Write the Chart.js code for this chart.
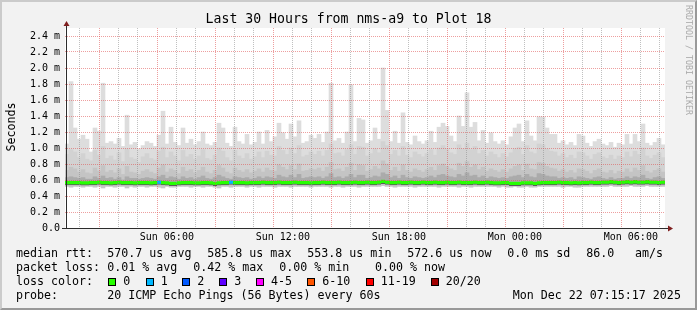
<!DOCTYPE html>
<html>
<head>
<meta charset="utf-8">
<script src="https://cdn.jsdelivr.net/npm/chart.js@4/dist/chart.umd.min.js"></script>
<style>
  html, body { margin: 0; padding: 0; background: #f2f2f2; }
  #frame { position: relative; width: 697px; height: 310px; background: #f2f2f2; overflow: hidden; }
  #frame canvas { position: absolute; left: 0; top: 0; }
  #shade { position: absolute; left: 0; top: 0; width: 697px; height: 310px; box-sizing: border-box;
    border-top: 2px solid #cbcbcb; border-left: 2px solid #cbcbcb;
    border-right: 2px solid #999; border-bottom: 2px solid #999; pointer-events: none; }
  .t { position: absolute; font-family: "DejaVu Sans Mono", monospace; font-size: 11.65px;
    line-height: 14px; white-space: pre; color: #000; }
  .box { position: absolute; width: 6px; height: 6px; border: 1px solid #000; top: 278px; }
  #title { left: 0; width: 697px; text-align: center; top: 11px; font-size: 13.2px; line-height: 16px; }
  #ylab { left: -19.5px; top: 120px; width: 60px; text-align: center; transform: rotate(-90deg); }
  #mark { left: 628.5px; top: 55px; width: 120px; height: 10px; line-height: 10px; text-align: center;
    font-size: 8.3px; color: #aaa; transform: rotate(90deg); }
</style>
</head>
<body>
<div id="frame">
  <canvas id="chart" width="697" height="310"></canvas>
  <div class="t" id="title">Last 30 Hours from nms-a9 to Plot 18</div>
  <div class="t" id="ylab">Seconds</div>
  <div class="t" id="mark">RRDTOOL / TOBI OETIKER</div>

  <div class="t" style="left:16px;top:246.3px">median rtt:</div>
  <div class="t" style="left:107.3px;top:246.3px">570.7 us avg</div>
  <div class="t" style="left:207.3px;top:246.3px">585.8 us max</div>
  <div class="t" style="left:307.3px;top:246.3px">553.8 us min</div>
  <div class="t" style="left:407.3px;top:246.3px">572.6 us now</div>
  <div class="t" style="left:507.3px;top:246.3px">0.0 ms sd</div>
  <div class="t" style="left:586.3px;top:246.3px">86.0</div>
  <div class="t" style="left:635px;top:246.3px">am/s</div>

  <div class="t" style="left:16px;top:260.3px">packet loss:</div>
  <div class="t" style="left:107.3px;top:260.3px">0.01 % avg</div>
  <div class="t" style="left:193.3px;top:260.3px">0.42 % max</div>
  <div class="t" style="left:279.3px;top:260.3px">0.00 % min</div>
  <div class="t" style="left:375px;top:260.3px">0.00 % now</div>

  <div class="t" style="left:16px;top:274.3px">loss color:</div>
  <div id="losslegend"></div>

  <div class="t" style="left:16px;top:288.3px">probe:</div>
  <div class="t" style="left:107.3px;top:288.3px">20 ICMP Echo Pings (56 Bytes) every 60s</div>
  <div class="t" style="left:512.7px;top:288.3px">Mon Dec 22 07:15:17 2025</div>
  <div id="shade"></div>
</div>
<script>
// 150 columns of 12 minutes, Sun 01:15 .. Mon 07:15, values in ms

// top of the smoke (slowest ping)
const hi = [
  1.05, 1.83, 1.25, 1.11, 1.16, 1.11, 0.95, 1.25, 1.21, 1.81,
  1.06, 1.08, 1.05, 1.12, 1.02, 1.41, 1.04, 1.07, 0.99, 1.03,
  1.08, 1.06, 1.02, 1.16, 1.46, 1.05, 1.26, 1.07, 1.03, 1.25,
  1.06, 1.11, 1.04, 1.08, 1.20, 1.05, 1.03, 1.07, 1.31, 1.25,
  1.06, 1.02, 1.26, 1.08, 1.05, 1.17, 1.04, 1.07, 1.20, 1.05,
  1.22, 1.08, 1.14, 1.31, 1.19, 1.11, 1.30, 1.14, 1.34, 1.06,
  1.08, 1.16, 1.12, 1.17, 1.07, 1.20, 1.81, 1.09, 1.12, 1.06,
  1.20, 1.79, 1.08, 1.37, 1.35, 1.06, 1.09, 1.25, 1.11, 2.00,
  1.47, 1.08, 1.21, 1.06, 1.44, 1.07, 1.04, 1.15, 1.08, 1.05,
  1.09, 1.21, 1.07, 1.26, 1.31, 1.27, 1.15, 1.08, 1.40, 1.27,
  1.69, 1.26, 1.32, 1.09, 1.22, 1.06, 1.19, 1.08, 1.05, 1.09,
  1.04, 1.14, 1.25, 1.30, 1.08, 1.34, 1.15, 1.09, 1.39, 1.39,
  1.25, 1.17, 1.17, 1.06, 1.09, 1.04, 1.07, 1.03, 1.17, 1.15,
  1.06, 1.02, 1.08, 1.11, 1.05, 1.03, 1.07, 1.01, 1.06, 1.04,
  1.17, 1.05, 1.17, 1.08, 1.30, 1.06, 1.03, 1.07, 1.12, 1.04
];
// inner smoke levels
const u3 = [
  0.92, 0.98, 0.95, 0.88, 0.93, 0.86, 0.84, 0.97, 0.91, 1.02,
  0.87, 0.90, 0.85, 0.94, 0.83, 0.99, 0.88, 0.86, 0.82, 0.89,
  0.93, 0.87, 0.85, 0.96, 1.01, 0.88, 0.95, 0.90, 0.84, 0.97,
  0.89, 0.92, 0.86, 0.90, 0.98, 0.87, 0.85, 0.91, 1.00, 0.96,
  0.88, 0.84, 0.97, 0.90, 0.87, 0.93, 0.86, 0.89, 0.95, 0.88,
  0.96, 0.91, 0.90, 1.02, 0.97, 0.92, 1.00, 0.93, 1.03, 0.89,
  0.91, 0.95, 0.92, 0.96, 0.90, 0.97, 1.05, 0.93, 0.94, 0.90,
  0.98, 1.04, 0.92, 1.02, 1.01, 0.90, 0.93, 0.99, 0.94, 1.08,
  1.03, 0.92, 0.97, 0.90, 1.02, 0.91, 0.88, 0.95, 0.92, 0.89,
  0.93, 0.98, 0.91, 1.00, 1.03, 0.99, 0.94, 0.92, 1.04, 0.99,
  1.06, 0.98, 1.02, 0.93, 0.97, 0.90, 0.95, 0.92, 0.88, 0.93,
  0.89, 0.94, 0.99, 1.01, 0.92, 1.03, 0.95, 0.93, 1.05, 1.04,
  0.99, 0.96, 0.95, 0.90, 0.93, 0.88, 0.91, 0.87, 0.95, 0.94,
  0.90, 0.86, 0.92, 0.94, 0.89, 0.87, 0.91, 0.86, 0.90, 0.88,
  0.95, 0.89, 0.96, 0.92, 1.00, 0.90, 0.87, 0.91, 0.94, 0.88
];
const u2 = [
  0.72, 0.76, 0.74, 0.70, 0.73, 0.69, 0.68, 0.75, 0.71, 0.78,
  0.70, 0.72, 0.69, 0.74, 0.67, 0.77, 0.70, 0.69, 0.67, 0.71,
  0.73, 0.70, 0.68, 0.75, 0.79, 0.70, 0.74, 0.72, 0.68, 0.76,
  0.71, 0.73, 0.69, 0.72, 0.76, 0.70, 0.68, 0.72, 0.78, 0.75,
  0.70, 0.68, 0.75, 0.72, 0.70, 0.73, 0.69, 0.71, 0.74, 0.70,
  0.75, 0.72, 0.71, 0.79, 0.76, 0.73, 0.78, 0.73, 0.80, 0.71,
  0.72, 0.74, 0.73, 0.75, 0.71, 0.76, 0.82, 0.73, 0.74, 0.71,
  0.76, 0.81, 0.72, 0.79, 0.78, 0.71, 0.73, 0.77, 0.74, 0.84,
  0.80, 0.72, 0.76, 0.71, 0.79, 0.72, 0.70, 0.74, 0.72, 0.70,
  0.73, 0.76, 0.72, 0.78, 0.80, 0.77, 0.74, 0.72, 0.81, 0.77,
  0.83, 0.76, 0.79, 0.73, 0.76, 0.71, 0.74, 0.72, 0.70, 0.73,
  0.70, 0.74, 0.77, 0.79, 0.72, 0.80, 0.74, 0.73, 0.82, 0.81,
  0.77, 0.75, 0.74, 0.71, 0.73, 0.70, 0.72, 0.69, 0.74, 0.73,
  0.71, 0.68, 0.72, 0.74, 0.70, 0.69, 0.72, 0.68, 0.71, 0.70,
  0.74, 0.70, 0.75, 0.72, 0.78, 0.71, 0.69, 0.72, 0.74, 0.70
];
const u1 = [
  0.63, 0.64, 0.63, 0.62, 0.63, 0.61, 0.61, 0.64, 0.62, 0.65,
  0.62, 0.63, 0.61, 0.63, 0.60, 0.64, 0.62, 0.62, 0.61, 0.62,
  0.63, 0.62, 0.61, 0.64, 0.66, 0.62, 0.64, 0.63, 0.61, 0.64,
  0.62, 0.63, 0.61, 0.63, 0.65, 0.62, 0.61, 0.63, 0.66, 0.64,
  0.62, 0.61, 0.64, 0.63, 0.62, 0.63, 0.61, 0.62, 0.64, 0.62,
  0.64, 0.63, 0.62, 0.66, 0.64, 0.63, 0.66, 0.63, 0.67, 0.62,
  0.63, 0.64, 0.63, 0.64, 0.62, 0.64, 0.68, 0.63, 0.64, 0.62,
  0.64, 0.67, 0.63, 0.66, 0.66, 0.62, 0.63, 0.65, 0.64, 0.69,
  0.67, 0.63, 0.65, 0.62, 0.66, 0.63, 0.62, 0.64, 0.63, 0.62,
  0.63, 0.65, 0.63, 0.66, 0.67, 0.65, 0.64, 0.63, 0.67, 0.65,
  0.69, 0.65, 0.66, 0.63, 0.65, 0.62, 0.64, 0.63, 0.62, 0.63,
  0.62, 0.64, 0.65, 0.66, 0.63, 0.67, 0.64, 0.63, 0.68, 0.67,
  0.65, 0.64, 0.64, 0.62, 0.63, 0.62, 0.63, 0.61, 0.64, 0.63,
  0.62, 0.61, 0.63, 0.64, 0.62, 0.61, 0.63, 0.61, 0.62, 0.62,
  0.64, 0.62, 0.64, 0.63, 0.66, 0.62, 0.61, 0.63, 0.64, 0.62
];
// median rtt
const med = [
  0.570, 0.570, 0.570, 0.570, 0.565, 0.565, 0.570, 0.570, 0.575, 0.570,
  0.570, 0.565, 0.570, 0.575, 0.570, 0.570, 0.570, 0.565, 0.570, 0.570,
  0.570, 0.565, 0.570, 0.575, 0.570, 0.565, 0.560, 0.560, 0.565, 0.570,
  0.570, 0.570, 0.565, 0.565, 0.570, 0.570, 0.565, 0.560, 0.565, 0.570,
  0.570, 0.575, 0.570, 0.570, 0.570, 0.565, 0.570, 0.570, 0.570, 0.575,
  0.570, 0.570, 0.570, 0.575, 0.570, 0.570, 0.570, 0.575, 0.570, 0.570,
  0.570, 0.565, 0.570, 0.570, 0.575, 0.570, 0.570, 0.570, 0.575, 0.570,
  0.570, 0.570, 0.575, 0.570, 0.570, 0.575, 0.570, 0.570, 0.575, 0.585,
  0.575, 0.570, 0.570, 0.575, 0.570, 0.570, 0.575, 0.570, 0.570, 0.575,
  0.570, 0.570, 0.575, 0.570, 0.570, 0.575, 0.570, 0.570, 0.575, 0.570,
  0.570, 0.570, 0.575, 0.570, 0.570, 0.575, 0.570, 0.565, 0.565, 0.570,
  0.570, 0.560, 0.560, 0.560, 0.565, 0.565, 0.565, 0.560, 0.565, 0.570,
  0.570, 0.570, 0.570, 0.575, 0.570, 0.570, 0.565, 0.570, 0.565, 0.570,
  0.570, 0.575, 0.570, 0.570, 0.575, 0.575, 0.580, 0.575, 0.570, 0.575,
  0.580, 0.575, 0.580, 0.575, 0.575, 0.580, 0.575, 0.575, 0.570, 0.575
];
// fastest ping
const lo = [
  0.52, 0.51, 0.52, 0.52, 0.51, 0.52, 0.52, 0.51, 0.52, 0.50,
  0.52, 0.52, 0.51, 0.52, 0.52, 0.50, 0.52, 0.51, 0.52, 0.52,
  0.51, 0.52, 0.52, 0.51, 0.50, 0.52, 0.51, 0.51, 0.52, 0.52,
  0.52, 0.51, 0.52, 0.52, 0.51, 0.52, 0.52, 0.51, 0.50, 0.52,
  0.52, 0.51, 0.52, 0.52, 0.52, 0.51, 0.52, 0.52, 0.51, 0.52,
  0.52, 0.52, 0.51, 0.52, 0.52, 0.52, 0.51, 0.52, 0.52, 0.52,
  0.52, 0.51, 0.52, 0.52, 0.52, 0.52, 0.51, 0.52, 0.52, 0.51,
  0.52, 0.52, 0.52, 0.51, 0.52, 0.52, 0.52, 0.52, 0.52, 0.53,
  0.52, 0.52, 0.51, 0.52, 0.52, 0.52, 0.52, 0.51, 0.52, 0.52,
  0.52, 0.52, 0.52, 0.51, 0.52, 0.52, 0.52, 0.52, 0.51, 0.52,
  0.52, 0.51, 0.52, 0.52, 0.52, 0.52, 0.52, 0.52, 0.51, 0.52,
  0.51, 0.51, 0.52, 0.51, 0.51, 0.52, 0.51, 0.51, 0.52, 0.52,
  0.52, 0.52, 0.52, 0.52, 0.51, 0.52, 0.52, 0.51, 0.51, 0.52,
  0.52, 0.52, 0.52, 0.52, 0.52, 0.52, 0.53, 0.52, 0.52, 0.52,
  0.52, 0.53, 0.52, 0.52, 0.52, 0.53, 0.52, 0.52, 0.52, 0.52
];
// lost pings per column
const loss = [
  0,0,0,0,0,0,0,0,0,0, 0,0,0,0,0,0,0,0,0,0, 0,0,0,1,0,0,0,0,0,0,
  0,0,0,0,0,0,0,0,0,0, 0,1,0,0,0,0,0,0,0,0, 0,0,0,0,0,0,0,0,0,0,
  0,0,0,0,0,0,0,0,0,0, 0,0,0,0,0,0,0,0,0,0, 0,0,0,0,0,0,0,0,0,0,
  0,0,0,0,0,0,0,0,0,0, 0,0,0,0,0,0,0,0,0,0, 0,0,0,0,0,0,0,0,0,0,
  0,0,0,0,0,0,0,0,0,0, 0,0,0,0,0,0,0,0,0,0, 0,0,0,0,0,0,0,0,0,0
];

const lossNames  = ['0', '1', '2', '3', '4-5', '6-10', '11-19', '20/20'];
const lossColors = ['#26ff00', '#00b8ff', '#0059ff', '#5e00ff', '#ff00ff', '#ff5500', '#ff0000', '#a10000'];
const lossBoxX   = [108.3, 145.7, 182.3, 219.3, 256, 307.3, 365.7, 430.7];

// hours since Sun 01:15
const xGridHours = [0.75, 1.75, 2.75, 3.75, 4.75, 5.75, 6.75, 7.75, 8.75, 9.75,
  10.75, 11.75, 12.75, 13.75, 14.75, 15.75, 16.75, 17.75, 18.75, 19.75,
  20.75, 21.75, 22.75, 23.75, 24.75, 25.75, 26.75, 27.75, 28.75, 29.75];
const xMajorHours = [1.75, 4.75, 7.75, 10.75, 13.75, 16.75, 19.75, 22.75, 25.75, 28.75];
const xLabelHours = [4.75, 10.75, 16.75, 22.75, 28.75];
const xLabels = ['Sun 06:00', 'Sun 12:00', 'Sun 18:00', 'Mon 00:00', 'Mon 06:00'];

const yGrid = [0, 0.1, 0.2, 0.3, 0.4, 0.5, 0.6, 0.7, 0.8, 0.9, 1.0, 1.1, 1.2,
  1.3, 1.4, 1.5, 1.6, 1.7, 1.8, 1.9, 2.0, 2.1, 2.2, 2.3, 2.4, 2.5];
const yLabels = ['0.0', '', '0.2 m', '', '0.4 m', '', '0.6 m', '', '0.8 m', '', '1.0 m', '', '1.2 m',
  '', '1.4 m', '', '1.6 m', '', '1.8 m', '', '2.0 m', '', '2.2 m', '', '2.4 m', ''];
const yMajor = [0, 0.2, 0.4, 0.6, 0.8, 1.0, 1.2, 1.4, 1.6, 1.8, 2.0, 2.2, 2.4];

const GRID = 'rgba(140,140,140,0.55)';
const MGRID = 'rgba(222,81,81,0.55)';

// loss colour legend
const ll = document.getElementById('losslegend');
lossNames.forEach((name, i) => {
  const b = document.createElement('div');
  b.className = 'box';
  b.style.left = lossBoxX[i] + 'px';
  b.style.background = lossColors[i];
  ll.appendChild(b);
  const t = document.createElement('div');
  t.className = 't';
  t.style.left = (lossBoxX[i] + 15) + 'px';
  t.style.top = '274.3px';
  t.textContent = name;
  ll.appendChild(t);
});

function band(top, bottom, color, order) {
  return {
    type: 'bar', data: top.map((v, i) => [bottom[i], v]), backgroundColor: color, order: order,
    barPercentage: 1, categoryPercentage: 1, grouped: false, borderWidth: 0
  };
}

const frameBits = {
  id: 'frameBits',
  beforeDraw(chart) {
    const { ctx, chartArea: a } = chart;
    ctx.save();
    ctx.fillStyle = '#fff';
    ctx.fillRect(a.left, a.top, a.right - a.left, a.bottom - a.top);
    ctx.restore();
  },
  afterDraw(chart) {
    const { ctx, chartArea: a } = chart;
    const ax = a.left + 1.5, ay = a.bottom + 0.5;
    ctx.save();
    ctx.strokeStyle = '#2c2c2c';
    ctx.lineWidth = 1;
    ctx.beginPath();
    ctx.moveTo(ax, ay); ctx.lineTo(ax, a.top - 2);
    ctx.moveTo(a.left - 3, ay); ctx.lineTo(a.right + 3, ay);
    ctx.stroke();
    ctx.fillStyle = '#7f1f1f';
    ctx.beginPath();
    ctx.moveTo(ax - 3, a.top - 2); ctx.lineTo(ax + 3, a.top - 2); ctx.lineTo(ax, a.top - 7);
    ctx.closePath(); ctx.fill();
    ctx.beginPath();
    ctx.moveTo(a.right + 3, ay - 3); ctx.lineTo(a.right + 3, ay + 3); ctx.lineTo(a.right + 8, ay);
    ctx.closePath(); ctx.fill();
    ctx.restore();
  }
};

new Chart(document.getElementById('chart'), {
  type: 'bar',
  data: {
    labels: hi.map((_, i) => i),
    datasets: [
      {
        // median, coloured by loss, with a dark rim underneath
        type: 'bar', data: med.map(v => [v - 0.031, v + 0.019]),
        backgroundColor: loss.map(n => lossColors[n]), order: 0,
        borderColor: '#5a5a5a', borderSkipped: false,
        borderWidth: { top: 0, left: 0, right: 0, bottom: 1 },
        barPercentage: 1, categoryPercentage: 1, grouped: false
      },
      band(u1, med, '#ababab', 1),
      band(u2, med, '#c4c4c4', 2),
      band(u3, med, '#d2d2d2', 3),
      band(hi, med, '#dddddd', 4),
      band(med, lo, '#c6c6c6', 5)
    ]
  },
  options: {
    responsive: false,
    animation: false,
    events: [],
    layout: { padding: { top: 28, right: 32, left: 0, bottom: 0 } },
    plugins: { legend: { display: false }, tooltip: { enabled: false }, title: { display: false } },
    scales: {
      x: { type: 'category', display: false, offset: true },
      xt: {
        type: 'linear', position: 'bottom', min: 0, max: 30,
        afterBuildTicks: s => { s.ticks = xGridHours.map(v => ({ value: v })); },
        afterFit: s => { s.height = 82; },
        grid: { z: 1, color: c => xMajorHours.includes(c.tick && c.tick.value) ? MGRID : GRID, drawTicks: false },
        border: { display: false, dash: [1, 1] },
        ticks: {
          autoSkip: false, maxRotation: 0, padding: 3, color: '#000',
          font: { family: 'DejaVu Sans Mono', size: 10 },
          callback: v => { const i = xLabelHours.indexOf(v); return i >= 0 ? xLabels[i] : ''; }
        }
      },
      y: {
        min: 0, max: 2.5,
        afterBuildTicks: s => { s.ticks = yGrid.map(v => ({ value: v })); },
        afterFit: s => { s.width = 65; },
        grid: { z: 1, color: c => yMajor.includes(c.tick && c.tick.value) ? MGRID : GRID, drawTicks: false },
        border: { display: false, dash: [1, 1] },
        ticks: {
          padding: 5, color: '#000',
          font: { family: 'DejaVu Sans Mono', size: 10 },
          callback: (v, i) => yLabels[i]
        }
      }
    }
  },
  plugins: [frameBits]
});
</script>
</body>
</html>
